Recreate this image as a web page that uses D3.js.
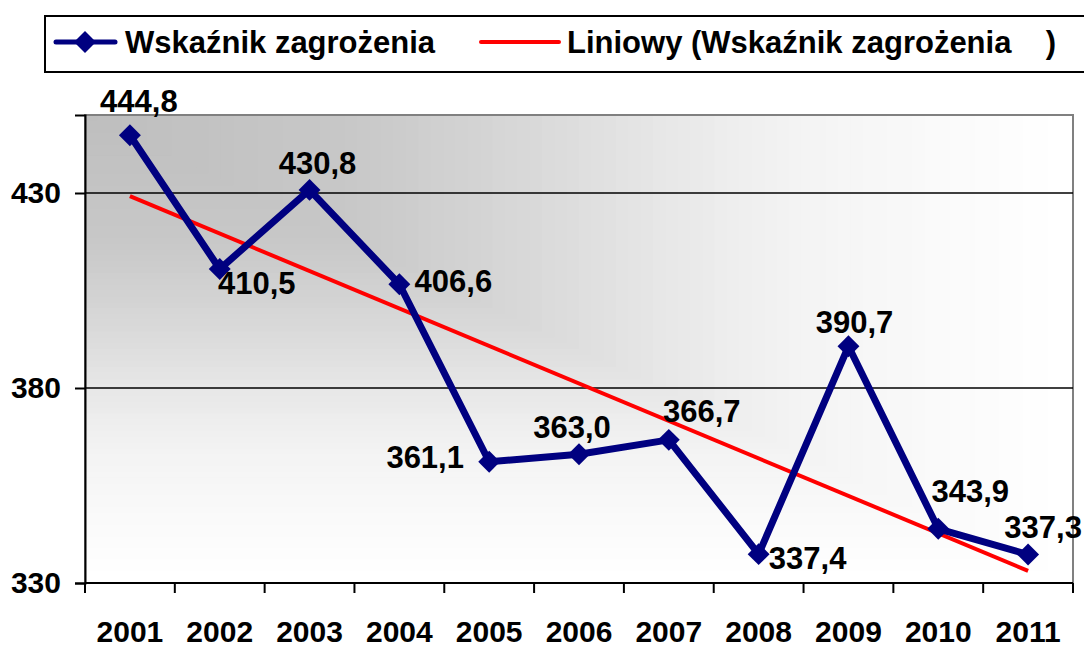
<!DOCTYPE html>
<html>
<head>
<meta charset="utf-8">
<script src="https://cdn.jsdelivr.net/npm/d3@7"></script>
<style>
  body { margin: 0; background: #fff; }
  text { font-family: "Liberation Sans", Arial, sans-serif; font-weight: bold; fill: #000; }
</style>
</head>
<body>
<div id="chart"></div>
<script>
var years = ["2001", "2002", "2003", "2004", "2005", "2006", "2007", "2008", "2009", "2010", "2011"];
var values = [444.8, 410.5, 430.8, 406.6, 361.1, 363.0, 366.7, 337.4, 390.7, 343.9, 337.3];
var yTicks = [330, 380, 430];
var seriesName = "Wskaźnik zagrożenia";
var trendName = "Liniowy (Wskaźnik zagrożenia    )";

// label placement around each point (dx, dy from the marker)
var labelPos = [[9, -23], [37, 25], [8, -16], [54, 8], [-64, 6], [-7, -16], [33, -18], [49, 15], [6, -13], [32, -27], [15, -17]];

var width = 1084, height = 647;
var margin = {left: 85, right: 11, top: 115, bottom: 64};

var svg = d3.select("#chart").append("svg")
    .attr("width", width)
    .attr("height", height);

var x = d3.scaleBand()
    .domain(years)
    .range([margin.left, width - margin.right]);

var y = d3.scaleLinear()
    .domain([330, 450])
    .range([height - margin.bottom, margin.top]);

var x0 = margin.left, x1 = width - margin.right;
var yTop = margin.top, yBot = height - margin.bottom;

// corner gradient background (gray at top-left fading to white)
var shade = d3.scaleLinear()
    .domain([0, 0.28, 0.45, 0.6, 0.72, 0.85, 1])
    .range([190, 200, 216, 232, 243, 249, 255]);
var steps = d3.range(1, 0, -1 / 80);
svg.append("g").selectAll("rect")
    .data(steps)
    .enter().append("rect")
    .attr("x", x0).attr("y", yTop)
    .attr("width", function (t) { return (x1 - x0) * t; })
    .attr("height", function (t) { return (yBot - yTop) * t; })
    .attr("fill", function (t) { var c = Math.round(shade(t)); return d3.rgb(c, c, c); });

svg.append("rect")
    .attr("x", x0).attr("y", yTop)
    .attr("width", x1 - x0).attr("height", yBot - yTop)
    .attr("fill", "none")
    .attr("stroke", "#808080")
    .attr("stroke-width", 2);

// gridlines
svg.append("g").selectAll("line")
    .data(yTicks.slice(1))
    .enter().append("line")
    .attr("x1", x0).attr("x2", x1)
    .attr("y1", function (d) { return y(d); })
    .attr("y2", function (d) { return y(d); })
    .attr("stroke", "#000")
    .attr("stroke-width", 1.5);

// y axis
var yAxis = svg.append("g")
    .attr("transform", "translate(" + x0 + ",0)")
    .call(d3.axisLeft(y).tickValues(yTicks).tickSize(10).tickPadding(14).tickFormat(d3.format("d")));
yAxis.select(".domain").attr("stroke", "#000").attr("stroke-width", 2);
yAxis.selectAll(".tick line").attr("stroke", "#000").attr("stroke-width", 2);
yAxis.selectAll("text").style("font-size", "30px").attr("fill", "#000");

// x axis: ticks at band boundaries
var xAxisG = svg.append("g")
    .attr("transform", "translate(0," + yBot + ")");
xAxisG.append("line")
    .attr("x1", x0).attr("x2", x1)
    .attr("stroke", "#000").attr("stroke-width", 2);
var bounds = years.map(function (d) { return x(d); }).concat([x1]);
xAxisG.selectAll(".tk")
    .data(bounds)
    .enter().append("line")
    .attr("class", "tk")
    .attr("x1", function (d) { return d; })
    .attr("x2", function (d) { return d; })
    .attr("y1", 0).attr("y2", 10)
    .attr("stroke", "#000").attr("stroke-width", 2);
xAxisG.selectAll(".lbl")
    .data(years)
    .enter().append("text")
    .attr("class", "lbl")
    .attr("x", function (d) { return x(d) + x.bandwidth() / 2; })
    .attr("y", 59)
    .attr("text-anchor", "middle")
    .style("font-size", "30px")
    .text(function (d) { return d; });

// linear trend (least squares)
var n = values.length;
var idx = d3.range(1, n + 1);
var mx = d3.mean(idx), my = d3.mean(values);
var slope = d3.sum(idx, function (d, i) { return (d - mx) * (values[i] - my); }) /
    d3.sum(idx, function (d) { return (d - mx) * (d - mx); });
var icpt = my - slope * mx;
var cx = function (d) { return x(d) + x.bandwidth() / 2; };

svg.append("line")
    .attr("x1", cx(years[0])).attr("y1", y(icpt + slope * 1))
    .attr("x2", cx(years[n - 1])).attr("y2", y(icpt + slope * n))
    .attr("stroke", "#ff0000")
    .attr("stroke-width", 4);

// series
var line = d3.line()
    .x(function (d, i) { return cx(years[i]); })
    .y(function (d) { return y(d); });

svg.append("path")
    .datum(values)
    .attr("d", line)
    .attr("fill", "none")
    .attr("stroke", "#000080")
    .attr("stroke-width", 7)
    .attr("stroke-linejoin", "round");

var diamond = d3.symbol().type(d3.symbolSquare).size(240);
svg.append("g").selectAll("path")
    .data(values)
    .enter().append("path")
    .attr("d", diamond)
    .attr("transform", function (d, i) { return "translate(" + cx(years[i]) + "," + y(d) + ") rotate(45)"; })
    .attr("fill", "#000080");

svg.append("g").selectAll("text")
    .data(values)
    .enter().append("text")
    .attr("x", function (d, i) { return cx(years[i]) + labelPos[i][0]; })
    .attr("y", function (d, i) { return y(d) + labelPos[i][1]; })
    .attr("text-anchor", "middle")
    .style("font-size", "31px")
    .text(function (d) { return d3.format(".1f")(d).replace(".", ","); });

// legend
var lg = svg.append("g");
lg.append("rect")
    .attr("x", 45).attr("y", 16)
    .attr("width", 1060).attr("height", 56)
    .attr("fill", "#fff")
    .attr("stroke", "#000")
    .attr("stroke-width", 2);
lg.append("line")
    .attr("x1", 56).attr("x2", 115).attr("y1", 42).attr("y2", 42)
    .attr("stroke", "#000080").attr("stroke-width", 5).attr("stroke-linecap", "round");
lg.append("path")
    .attr("d", diamond)
    .attr("transform", "translate(85,42) rotate(45)")
    .attr("fill", "#000080");
lg.append("text")
    .attr("x", 125).attr("y", 53)
    .style("font-size", "31px")
    .text(seriesName);
lg.append("line")
    .attr("x1", 481).attr("x2", 559).attr("y1", 42).attr("y2", 42)
    .attr("stroke", "#ff0000").attr("stroke-width", 4).attr("stroke-linecap", "round");
lg.append("text")
    .attr("x", 567).attr("y", 53)
    .style("font-size", "31px")
    .style("white-space", "pre")
    .text(trendName);
</script>
</body>
</html>
